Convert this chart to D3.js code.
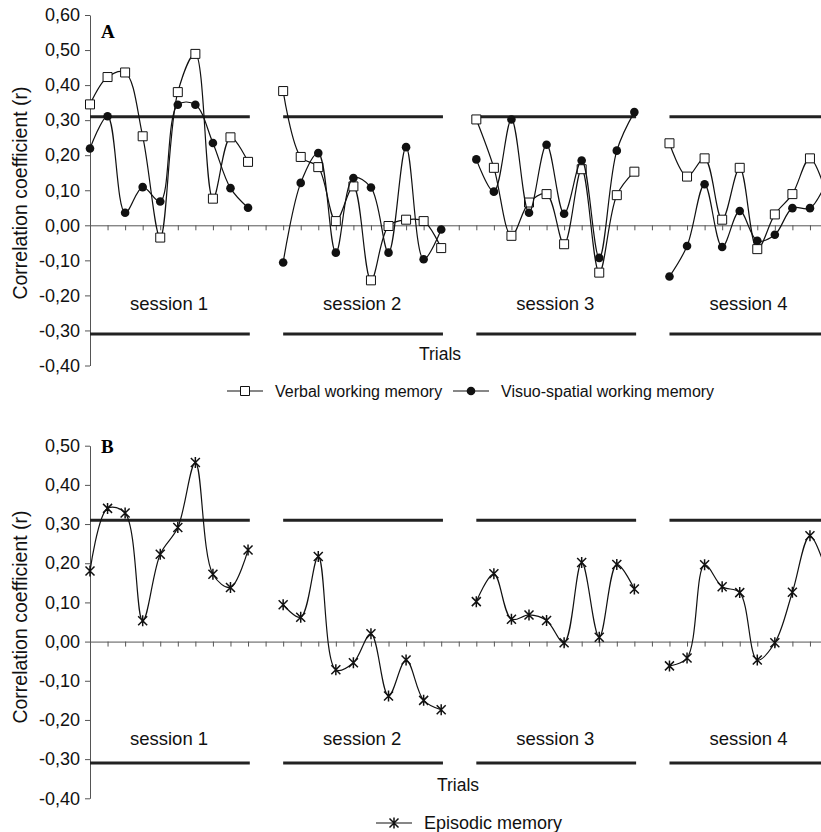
<!DOCTYPE html>
<html>
<head>
<meta charset="utf-8">
<script src="https://cdn.jsdelivr.net/npm/d3@7"></script>
<style>
  body { margin: 0; background: #fff; }
  svg { display: block; font-family: "Liberation Sans", Arial, sans-serif; }
</style>
</head>
<body>
<svg id="chart" width="821" height="832"></svg>
<script>
// ---- data (one sub-array per session, 10 trials each) ----
const sessionLabels = ["session 1", "session 2", "session 3", "session 4"];
const ticksA = [0.6, 0.5, 0.4, 0.3, 0.2, 0.1, 0, -0.1, -0.2, -0.3, -0.4];
const ticksB = [0.5, 0.4, 0.3, 0.2, 0.1, 0, -0.1, -0.2, -0.3, -0.4];
const critical = 0.31;

const verbalWM = [
  [0.345, 0.423, 0.436, 0.254, -0.035, 0.380, 0.489, 0.076, 0.251, 0.181],
  [0.383, 0.195, 0.166, 0.012, 0.111, -0.157, -0.002, 0.016, 0.012, -0.065],
  [0.302, 0.164, -0.030, 0.065, 0.089, -0.054, 0.160, -0.135, 0.086, 0.153],
  [0.234, 0.139, 0.191, 0.016, 0.164, -0.068, 0.031, 0.089, 0.191, 0.08]
];
const visuoWM = [
  [0.219, 0.311, 0.036, 0.109, 0.068, 0.344, 0.344, 0.235, 0.106, 0.050],
  [-0.106, 0.121, 0.206, -0.078, 0.135, 0.108, -0.078, 0.223, -0.097, -0.012],
  [0.188, 0.096, 0.302, 0.036, 0.230, 0.033, 0.185, -0.093, 0.213, 0.323],
  [-0.146, -0.059, 0.117, -0.062, 0.041, -0.044, -0.027, 0.049, 0.049, 0.13]
];
const episodic = [
  [0.180, 0.340, 0.328, 0.053, 0.223, 0.291, 0.457, 0.172, 0.138, 0.234],
  [0.094, 0.062, 0.217, -0.072, -0.054, 0.020, -0.139, -0.047, -0.150, -0.174],
  [0.102, 0.173, 0.057, 0.068, 0.054, -0.003, 0.202, 0.011, 0.197, 0.134],
  [-0.062, -0.042, 0.196, 0.140, 0.125, -0.047, -0.003, 0.126, 0.270, 0.17]
];

const svg = d3.select("#chart");
const fmt = v => v.toFixed(2).replace(".", ",").replace("-0,00", "0,00");

// trial index: session s, trial j -> s*11 + j (one empty slot between sessions)
const x = d3.scaleLinear().domain([0, 43]).range([90, 90 + 43 * 17.56]);
const line = d3.line().curve(d3.curveCatmullRom.alpha(0.5));

const squarePath = "M-4.5,-4.5H4.5V4.5H-4.5Z";
const starPath = "M-4.5,-4.5L4.5,4.5M-4.5,4.5L4.5,-4.5M0,-5.5V5.5";

function panel(cfg) {
  const y = d3.scaleLinear().domain(cfg.domain).range(cfg.range);
  const g = svg.append("g");

  // x axis at r = 0
  const xa = g.append("g")
    .attr("transform", `translate(0,${y(0)})`)
    .call(d3.axisBottom(x).tickValues(d3.range(0, 44)).tickSize(5).tickSizeOuter(0).tickFormat(""));
  xa.selectAll("path, line").attr("stroke", "#555");

  // y axis
  const ya = g.append("g")
    .attr("transform", `translate(${x(0)},0)`)
    .call(d3.axisLeft(y).tickValues(cfg.ticks).tickSize(5).tickSizeOuter(0).tickFormat(fmt));
  ya.selectAll("path, line").attr("stroke", "#555");
  ya.selectAll("text").attr("font-size", 18).attr("fill", "#111").attr("x", -10);

  g.append("text")
    .attr("transform", `translate(27,${cfg.titleY}) rotate(-90)`)
    .attr("text-anchor", "middle")
    .attr("font-size", 19.5)
    .attr("fill", "#111")
    .text("Correlation coefficient (r)");

  g.append("text")
    .attr("x", 101).attr("y", cfg.letterY)
    .attr("font-family", "Liberation Serif, Times New Roman, serif")
    .attr("font-weight", "bold").attr("font-size", 19)
    .text(cfg.letter);

  // critical r lines + session labels
  sessionLabels.forEach((lab, s) => {
    [critical, -critical].forEach(c => {
      g.append("line")
        .attr("x1", x(s * 11)).attr("x2", x(s * 11 + 9.1))
        .attr("y1", y(c)).attr("y2", y(c))
        .attr("stroke", "#222").attr("stroke-width", 3);
    });
    g.append("text")
      .attr("x", x(s * 11 + 4.5)).attr("y", cfg.sessionY)
      .attr("text-anchor", "middle").attr("font-size", 18.5).attr("fill", "#111")
      .text(lab);
  });

  g.append("text")
    .attr("x", cfg.trialsX).attr("y", cfg.trialsY)
    .attr("text-anchor", "middle").attr("font-size", 17.5).attr("fill", "#111")
    .text("Trials");

  // series
  cfg.series.forEach(sr => {
    sr.values.forEach((vals, s) => {
      const pts = vals.map((v, j) => [x(s * 11 + j), y(v)]);
      g.append("path")
        .attr("d", line(pts))
        .attr("fill", "none").attr("stroke", "#111").attr("stroke-width", 1.2);
      pts.forEach(p => drawMarker(g, sr.marker, p[0], p[1]));
    });
  });

  // legend
  cfg.series.forEach(sr => {
    const lg = g.append("g").attr("transform", `translate(${sr.legendX},${cfg.legendY})`);
    lg.append("line").attr("x1", 0).attr("x2", 36).attr("stroke", "#111").attr("stroke-width", 1.2);
    drawMarker(lg, sr.marker, 18, 0);
    lg.append("text").attr("x", 48).attr("dy", "0.35em")
      .attr("font-size", cfg.legendSize).attr("fill", "#111").text(sr.name);
  });
}

function drawMarker(g, type, cx, cy) {
  if (type === "square") {
    g.append("path").attr("d", squarePath).attr("transform", `translate(${cx},${cy})`)
      .attr("fill", "#fff").attr("stroke", "#111").attr("stroke-width", 1);
  } else if (type === "circle") {
    g.append("circle").attr("cx", cx).attr("cy", cy).attr("r", 4.3).attr("fill", "#111");
  } else {
    g.append("path").attr("d", starPath).attr("transform", `translate(${cx},${cy})`)
      .attr("fill", "none").attr("stroke", "#111").attr("stroke-width", 1.5);
  }
}

panel({
  letter: "A", letterY: 38, titleY: 193,
  domain: [0.6, -0.4], range: [15, 365.5], ticks: ticksA,
  sessionY: 310, trialsX: 440, trialsY: 360,
  legendY: 391, legendSize: 16,
  series: [
    { name: "Verbal working memory", values: verbalWM, marker: "square", legendX: 227 },
    { name: "Visuo-spatial working memory", values: visuoWM, marker: "circle", legendX: 453 }
  ]
});

panel({
  letter: "B", letterY: 453, titleY: 617,
  domain: [0.5, -0.4], range: [445.7, 798.3], ticks: ticksB,
  sessionY: 745, trialsX: 458, trialsY: 791,
  legendY: 823, legendSize: 18,
  series: [
    { name: "Episodic memory", values: episodic, marker: "star", legendX: 376 }
  ]
});
</script>
</body>
</html>
